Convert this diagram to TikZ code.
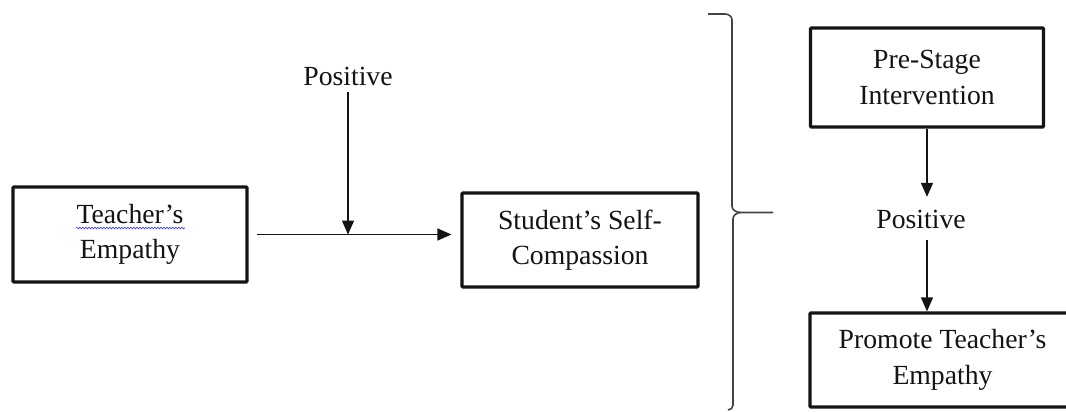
\documentclass[tikz,border=0pt]{standalone}
\usepackage{fontspec}
\setmainfont{Liberation Serif}
\usetikzlibrary{arrows.meta,decorations.pathmorphing}
\definecolor{ink}{HTML}{141414}
\begin{document}
\begin{tikzpicture}[x=1pt,y=-1pt,
  txt/.style={font=\fontsize{27.7}{35.5}\selectfont, text=ink, align=center, inner sep=0pt},
  boxnode/.style={txt, draw=ink, line width=3.2pt, rounded corners=1pt},
  lbl/.style={txt, anchor=base, text height=18pt, text depth=0pt},
  arr/.style={draw=ink, line width=1.4pt, -{Triangle[width=12pt,length=14pt]}},
  brace/.style={draw=ink!80, line width=1.6pt}]
\useasboundingbox[fill=white] (0,0) rectangle (1066,412);
% boxes
\node[boxnode, minimum width=234pt, minimum height=95pt] (te) at (130,234.5) {Teacher’s\\Empathy};
\node[boxnode, minimum width=236pt, minimum height=94pt] (ss) at (580,240) {Student’s Self-\\Compassion};
\node[boxnode, minimum width=233pt, minimum height=99pt] (pre) at (927,77.5) {Pre-Stage\\Intervention};
\node[boxnode, minimum width=265pt, minimum height=94pt] (prom) at (942.5,360) {Promote Teacher’s\\Empathy};
% spelling squiggle
\draw[blue!80, line width=0.6pt, decorate, decoration={snake, amplitude=0.9pt, segment length=3pt}] (76,228) -- (185,228);
% labels
\node[lbl] (p1) at (348,85) {Positive};
\node[lbl] (p2) at (921,228) {Positive};
% left connectors
\coordinate (m) at (te.east -| p1.south);
\draw[arr, shorten <=8pt, shorten >=9pt] (te.east) -- (te.east -| ss.west);
\draw[arr, shorten <=7pt] (p1.south) -- (m);
% right connectors
\draw[arr, shorten >=13pt] (pre.south) -- (pre.south |- p2.north);
\draw[arr, shorten <=12pt] (pre.south |- p2.south) -- (pre.south |- prom.north);
% brace
\coordinate (bt) at (773,212.5);
\draw[brace] (708,14) -- (725,14) to[out=0,in=90] (732,20) -- (732,206) to[out=-90,in=180] (741,212.5) -- (bt);
\draw[brace] (741,212.5) to[out=180,in=90] (733,219) -- (733,405) to[out=-90,in=0] (728,410);
\end{tikzpicture}
\end{document}
